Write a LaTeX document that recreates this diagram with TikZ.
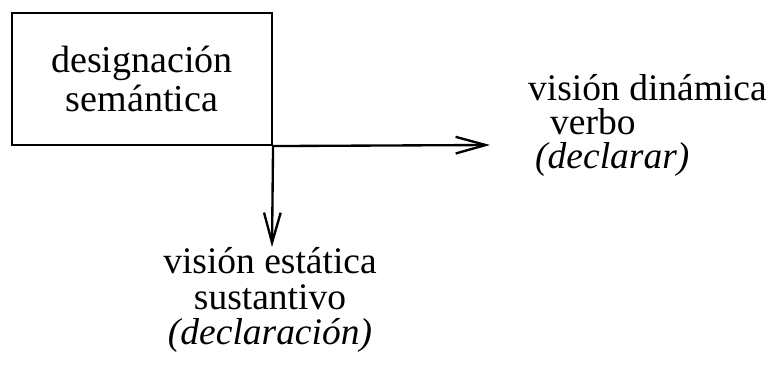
\documentclass[tikz,border=0pt]{standalone}
\usepackage{fontspec}
\setmainfont{Liberation Serif}
\usepackage{tikz}
\usetikzlibrary{arrows.meta, positioning}
\newcommand{\tightlines}{\lineskiplimit=-20pt\relax}

\begin{document}
\begin{tikzpicture}[
    frame/.style={rectangle, draw, line width=1.8pt, minimum width=7.8cm, minimum height=3.96cm, align=center, font=\fontsize{32.5}{33}\selectfont},
    label/.style={inner sep=0pt, font=\fontsize{32}{29}\selectfont\tightlines},
    arrow/.style={-{Straight Barb[length=0.9cm, width=0.5cm]}, line width=2pt}
]
\useasboundingbox (0,0) rectangle (23.4,-11.01);

% Box
\node[frame] (designacion) at (4.26,-2.37) {designación\\semántica};

% Labels
\node[label, align=left, anchor=west] (dinamica) at (15.84,-3.75)
    {visión dinámica\\\hspace*{0.66cm}verbo\\\hspace*{0.21cm}\textit{(declarar)}};
\node[label, align=center, font=\fontsize{32}{30.5}\selectfont\tightlines] (estatica) at (8.1,-9.0)
    {visión estática\\sustantivo\\\textit{(declaración)}};

% Arrow ends
\coordinate (hend) at (14.7,-4.35);
\coordinate (vend) at (8.16,-7.41);

% Arrows
\draw[arrow] (designacion.south east) -- (hend);
\draw[arrow] (designacion.south east) -- (vend);

\end{tikzpicture}
\end{document}
